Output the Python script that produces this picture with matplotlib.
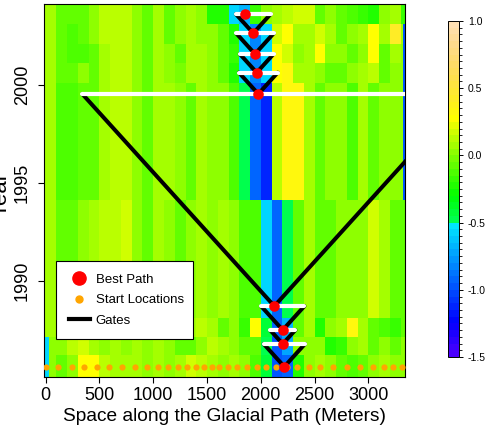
import numpy as np
import matplotlib
matplotlib.use("Agg")
import matplotlib.pyplot as plt
from matplotlib.colors import ListedColormap, BoundaryNorm, hsv_to_rgb
from matplotlib.lines import Line2D

plt.rcParams['font.family'] = ['Liberation Sans', 'DejaVu Sans']
plt.rcParams['axes.unicode_minus'] = False

# ---- data ----
years = [1985.63, 1986.79, 1987.50, 1988.72, 1999.54, 2000.63, 2001.58, 2002.64, 2003.62]
best_path_x = [2219, 2204, 2204, 2126, 1977, 1962, 1946, 1930, 1853]
start_x = [0, 119, 242, 358, 474, 593, 712, 826, 939, 1040, 1139, 1233, 1318, 1399,
           1472, 1548, 1616, 1693, 1779, 1869, 1962, 2053, 2146, 2244, 2337, 2445,
           2553, 2674, 2799, 2922, 3043, 3143, 3227, 3310]
gate_speed = 165  # metres per year (gate half-width growth)

col_edges = [-13, 30] + list(range(100, 3301, 100)) + [3322, 3341]
y_limits = (1985.12, 2004.13)

z_1985 = [-0.6, 0.0, -0.05, 0.05, 0.25, 0.3, 0.15, 0.1, 0.08, 0.1, 0.05, 0.1, 0.0, 0.1, 0.2, 0.15, 0.1, 0.05,
          0.08, 0.0, -0.1, -0.4, -1.0, -0.9, -0.2, 0.05, 0.1, 0.05, -0.05, -0.1, -0.05, 0.05, 0.1, 0.05, 0.05, 0.05]
z_1986 = [-0.6, 0.0, 0.05, 0.15, 0.2, 0.1, 0.05, 0.1, 0.0, 0.1, 0.05, 0.1, 0.05, -0.05, -0.05, 0.05, 0.15, 0.1,
          0.05, -0.05, -0.05, -0.45, -1.0, -0.75, 0.0, 0.0, 0.05, -0.2, -0.15, 0.05, 0.1, -0.05, 0.05, -0.05, 0.05, 0.05]
z_1987 = [0.1, 0.1, -0.05, 0.0, 0.1, 0.15, 0.1, 0.2, 0.25, 0.15, 0.1, 0.05, 0.0, 0.05, 0.1, 0.15, 0.1, -0.05,
          0.05, -0.15, 0.3, -0.4, -0.95, -0.7, -0.05, 0.1, -0.2, 0.05, 0.1, 0.35, 0.08, -0.05, -0.1, -0.15, -0.05, -0.05]
z_1988 = [0.08, 0.08, -0.05, -0.05, 0.05, 0.1, 0.12, 0.15, 0.18, 0.0, -0.05, 0.1, 0.05, -0.05, 0.05, 0.1, 0.05, 0.08,
          0.05, -0.1, -0.1, -0.55, -0.9, -0.5, -0.05, 0.1, -0.05, -0.05, 0.05, 0.0, 0.05, 0.2, 0.1, -0.05, -0.05, -0.05]
z_1999 = [0.08, 0.08, -0.1, -0.1, -0.08, -0.05, 0.1, 0.15, 0.15, 0.05, -0.08, 0.1, 0.1, 0.05, -0.05, 0.08, 0.05, 0.05,
          -0.1, -0.45, -0.95, -1.15, 0.15, 0.35, 0.35, 0.1, -0.05, 0.0, 0.05, -0.1, 0.08, -0.05, 0.05, 0.05, 0.05, -1.0]
z_2000 = [0.08, 0.08, -0.05, -0.08, 0.0, -0.05, 0.1, 0.15, 0.15, 0.05, -0.08, 0.08, 0.05, -0.02, 0.1, 0.08, 0.0, -0.05,
          -0.2, -0.6, -0.85, -0.6, 0.3, 0.35, 0.1, 0.08, 0.05, -0.05, -0.08, 0.05, 0.1, 0.15, -0.08, 0.05, 0.05, -1.0]
z_2001 = [0.08, 0.08, -0.05, -0.1, -0.1, -0.05, 0.1, 0.12, 0.12, 0.0, -0.08, 0.1, 0.05, -0.05, 0.1, 0.08, 0.0, -0.05,
          -0.15, -0.6, -0.85, -0.6, 0.25, 0.2, 0.05, 0.1, 0.3, 0.0, 0.05, -0.05, 0.05, 0.3, -0.05, 0.1, 0.05, -1.0]
z_2002 = [0.08, 0.08, -0.08, -0.1, -0.08, 0.0, 0.12, 0.15, 0.15, 0.05, -0.08, 0.08, -0.08, 0.0, 0.1, 0.05, 0.0, -0.05,
          -0.2, -0.6, -0.85, -0.6, 0.2, 0.3, 0.1, 0.1, 0.2, 0.1, -0.08, 0.05, 0.1, 0.3, 0.1, 0.45, 0.1, -1.0]
z_2003 = [0.08, 0.08, -0.08, -0.08, -0.08, 0.0, 0.12, 0.15, 0.12, 0.0, -0.08, 0.08, -0.05, 0.0, 0.1, 0.05, -0.25, -0.2,
          -0.55, -0.7, -0.15, 0.0, 0.1, 0.12, 0.18, 0.2, -0.05, 0.05, -0.08, -0.1, -0.15, -0.2, 0.05, 0.08, -0.15, -0.15]

cbar_ticks = [-1.5, -1.0, -0.5, 0.0, 0.5, 1.0]
xticks = [0, 500, 1000, 1500, 2000, 2500, 3000]
yticks = [1990, 1995, 2000]

# ---- colormap (topo-like) ----
blue = [hsv_to_rgb((h, 1, 1)) for h in np.linspace(43/60, 31/60, 20)]
green = [hsv_to_rgb((h, 1, 1)) for h in np.linspace(23/60, 11/60, 15)]
yell = [hsv_to_rgb((h, s, 1)) for h, s in zip(np.linspace(10/60, 6/60, 15), np.linspace(1, 0.3, 15))]
cmap = ListedColormap(blue + green + yell)
norm = BoundaryNorm(np.linspace(-1.5, 1.0, 51), cmap.N)

Z = np.array([z_1985, z_1986, z_1987, z_1988, z_1999, z_2000, z_2001, z_2002, z_2003])
yr = np.array(years)
row_edges = np.concatenate([[y_limits[0]], (yr[:-1] + yr[1:]) / 2, [y_limits[1]]])

W, H = 494, 436
fig = plt.figure(figsize=(W/100, H/100), dpi=100)
ax = fig.add_axes([44.3/W, (H-376.7)/H, (405-44.3)/W, (376.7-4)/H])
mesh = ax.pcolormesh(col_edges, row_edges, Z, cmap=cmap, norm=norm, shading='flat')

# gates
for i in range(len(years) - 1):
    t0, t1 = years[i], years[i+1]
    x0 = best_path_x[i]
    hw = gate_speed * (t1 - t0)
    ax.plot([x0 - hw, x0, x0 + hw], [t1, t0, t1], color='black', lw=2.9, solid_capstyle='round',
            solid_joinstyle='round', zorder=4)
    ax.plot([x0 - hw, x0 + hw], [t1, t1], color='white', lw=3.0, solid_capstyle='round', zorder=4.5)

ax.scatter(start_x, [years[0]]*len(start_x), s=20, color='#FFA500', zorder=5, linewidths=0)
ax.scatter(best_path_x, years, s=58, color='#FF0000', zorder=6, linewidths=0)

ax.set_xlim(col_edges[0], col_edges[-1])
ax.set_ylim(*y_limits)
ax.set_xticks(xticks)
ax.set_yticks(yticks)
ax.tick_params(direction='out', length=4.5, width=0.8, labelsize=13)
ax.tick_params(axis='x', pad=3)
ax.tick_params(axis='y', pad=5)
for lab in ax.get_yticklabels():
    lab.set_rotation(90)
    lab.set_va('center')
ax.set_xlabel('Space along the Glacial Path (Meters)', fontsize=13.8, labelpad=3)
ax.set_ylabel('Year', fontsize=16)
ax.yaxis.set_label_coords(-0.09, 0.49)
for sp in ax.spines.values():
    sp.set_linewidth(0.8)

handles = [Line2D([], [], marker='o', ls='none', color='#FF0000', markersize=9.5),
           Line2D([], [], marker='o', ls='none', color='#FFA500', markersize=5),
           Line2D([], [], color='black', lw=3)]
leg = ax.legend(handles, ['Best Path', 'Start Locations', 'Gates'], loc='upper left',
                bbox_to_anchor=(0.0324, 0.0931, 0.38, 0.2173), mode='expand',
                fontsize=9.5, frameon=True, fancybox=False,
                framealpha=1, edgecolor='black', borderaxespad=0, borderpad=0.95,
                labelspacing=0.62, handlelength=1.6, handletextpad=0.45)
leg.get_frame().set_linewidth(0.8)
leg.set_zorder(10)

cax = fig.add_axes([448/W, (H-357)/H, 11/W, 336/H])
cb = fig.colorbar(mesh, cax=cax, ticks=cbar_ticks)
cb.ax.set_yticklabels(['%.1f' % t for t in cbar_ticks])
cb.ax.tick_params(labelsize=7.5, length=3, width=0.7)
cb.outline.set_linewidth(0.7)

fig.savefig('out.png', dpi=100)
